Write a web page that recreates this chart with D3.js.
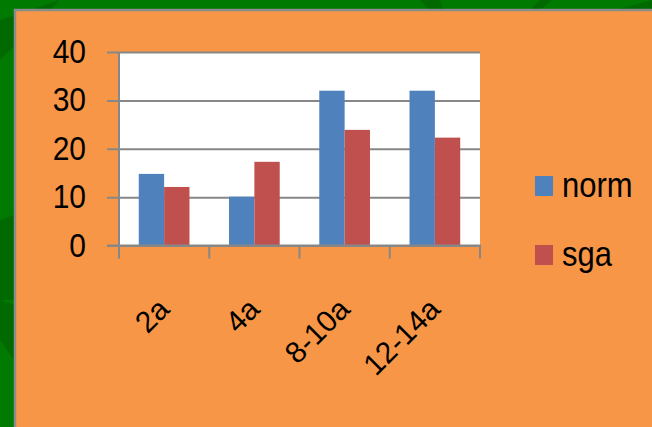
<!DOCTYPE html>
<html>
<head>
<meta charset="utf-8">
<script src="https://cdn.jsdelivr.net/npm/d3@7"></script>
<style>
  html, body { margin: 0; padding: 0; background: #007800; }
  svg { display: block; }
  text { font-family: "Liberation Sans", Arial, sans-serif; fill: #000; }
</style>
</head>
<body>
<svg id="chart" width="652" height="427"></svg>
<script>
// Chart data
const categories = ["2a", "4a", "8-10a", "12-14a"];
const seriesNames = ["norm", "sga"];
const normValues = [14.8, 10.1, 32.0, 32.0];
const sgaValues = [12.1, 17.3, 23.9, 22.3];
const yTicks = [0, 10, 20, 30, 40];

const colors = { norm: "#4F81BD", sga: "#C0504D" };
const gridColor = "#878787";

const svg = d3.select("#chart");

// Green slide background with a few darker leaf shapes
svg.append("rect").attr("width", 652).attr("height", 427).attr("fill", "#007a00");
const leaves = [
  [[0, 20], [60, 0], [0, 60]],
  [[420, 0], [440, 0], [444, 14], [432, 14]],
  [[525, 14], [540, 0], [552, 0], [535, 14]],
  [[0, 220], [14, 215], [14, 300], [0, 300]],
  [[0, 300], [14, 305], [14, 360], [0, 340]],
  [[600, 14], [652, 0], [652, 14]]
];
svg.selectAll("path.leaf").data(leaves).join("path")
  .attr("class", "leaf")
  .attr("d", d => d3.line()(d) + "Z")
  .attr("fill", "#006a00");

// Orange chart panel with grey edge
svg.append("rect")
  .attr("x", 15).attr("y", 10)
  .attr("width", 652).attr("height", 430)
  .attr("fill", "#F79646")
  .attr("stroke", "#8c8c8c").attr("stroke-width", 2.5);

// Plot area
const plot = { left: 119, right: 480, top: 52, bottom: 245.5 };

const x0 = d3.scaleBand().domain(categories).range([plot.left, plot.right]).paddingInner(0).paddingOuter(0);
const x1 = d3.scaleBand().domain(seriesNames).range([0, x0.bandwidth()]).paddingInner(0).paddingOuter(0.78);
const y = d3.scaleLinear().domain([0, 40]).range([plot.bottom, plot.top]);

svg.append("rect")
  .attr("x", plot.left).attr("y", plot.top)
  .attr("width", plot.right - plot.left).attr("height", plot.bottom - plot.top)
  .attr("fill", "#ffffff");

// Horizontal gridlines with outward ticks
const yAxis = d3.axisLeft(y).tickValues(yTicks)
  .tickSize(-(plot.right - plot.left))
  .tickFormat("");
const yg = svg.append("g").attr("transform", `translate(${plot.left},0)`).call(yAxis);
yg.select(".domain").remove();
yg.selectAll(".tick line")
  .attr("x1", -12)
  .attr("stroke", gridColor).attr("stroke-width", 2);

// Bars
const rows = categories.map((c, i) => ({ cat: c, norm: normValues[i], sga: sgaValues[i] }));
const groups = svg.append("g").selectAll("g").data(rows).join("g")
  .attr("transform", d => `translate(${x0(d.cat)},0)`);
groups.selectAll("rect")
  .data(d => seriesNames.map(k => ({ key: k, value: d[k] })))
  .join("rect")
  .attr("x", d => x1(d.key))
  .attr("width", x1.bandwidth())
  .attr("y", d => y(d.value))
  .attr("height", d => y(0) - y(d.value))
  .attr("fill", d => colors[d.key]);

// Value axis line
svg.append("line")
  .attr("x1", plot.left).attr("x2", plot.left)
  .attr("y1", plot.top).attr("y2", plot.bottom + 13)
  .attr("stroke", gridColor).attr("stroke-width", 2);

// Category axis with boundary ticks
const xg = svg.append("g").attr("transform", `translate(0,${plot.bottom})`);
xg.append("line")
  .attr("x1", plot.left - 12).attr("x2", plot.right + 1)
  .attr("stroke", gridColor).attr("stroke-width", 2);
const boundaries = categories.map(c => x0(c)).concat([x0(categories[categories.length - 1]) + x0.bandwidth()]);
xg.selectAll("line.bt").data(boundaries).join("line")
  .attr("class", "bt")
  .attr("x1", d => d).attr("x2", d => d)
  .attr("y1", 0).attr("y2", 13)
  .attr("stroke", gridColor).attr("stroke-width", 2);

// Value labels
svg.append("g").selectAll("text").data(yTicks).join("text")
  .attr("transform", d => `translate(86,${y(d) + 11}) scale(1,1.1)`)
  .attr("text-anchor", "end")
  .attr("font-size", 30)
  .text(d => d);

// Rotated category labels
svg.append("g").selectAll("text").data(categories).join("text")
  .attr("transform", d => `translate(${x0(d) + x0.bandwidth() / 2 + 7},311) rotate(-45)`)
  .attr("text-anchor", "end")
  .attr("font-size", 30)
  .text(d => d);

// Legend
const legend = svg.append("g").selectAll("g").data(seriesNames).join("g")
  .attr("transform", (d, i) => `translate(535,${176 + i * 69})`);
legend.append("rect")
  .attr("width", 18).attr("height", 20)
  .attr("fill", d => colors[d]);
legend.append("text")
  .attr("transform", "translate(27,21) scale(1,1.12)")
  .attr("font-size", 31)
  .text(d => d);
</script>
</body>
</html>
